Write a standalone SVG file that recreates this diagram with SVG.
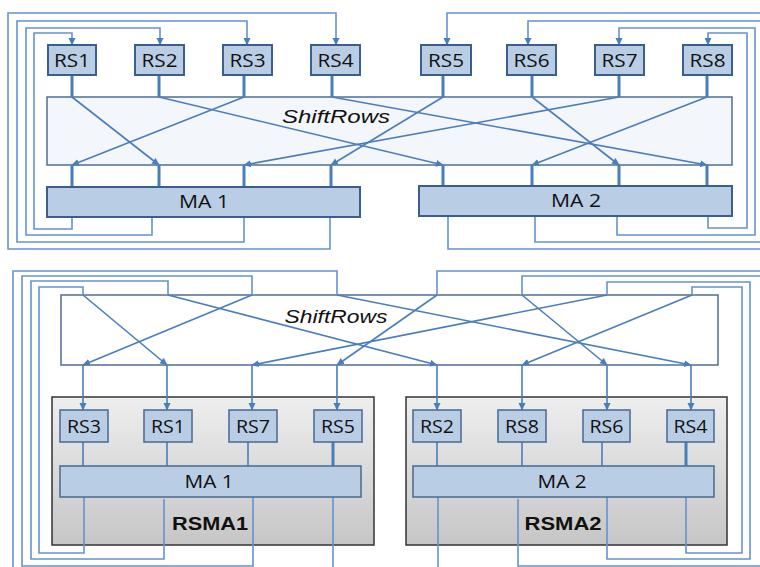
<svg xmlns="http://www.w3.org/2000/svg" width="760" height="567" viewBox="0 0 760 567">
<defs>
<style>
.rs{fill:#B9CDE5;stroke:#3A5F8C;stroke-width:2}
.rsb{fill:#B9CDE5;stroke:#4F6F97;stroke-width:1.6}
.ma{fill:#B9CDE5;stroke:#3A5F8C;stroke-width:2}
.lbl{font-family:"Open Sans","Noto Sans",sans-serif;font-size:18px;fill:#111;text-anchor:middle}
.sr{font-family:"Liberation Sans",Arial,sans-serif;font-style:italic;font-size:19px;fill:#111;text-anchor:middle}
.big{font-family:"Liberation Sans",Arial,sans-serif;font-weight:bold;font-size:18px;fill:#111;text-anchor:middle}
.c{fill:none;stroke:#4A7EBB;stroke-width:1.6}
.t{fill:none;stroke:#4A7EBB;stroke-width:3}
.f{fill:none;stroke:#6592CF;stroke-width:1.6}
</style>
<marker id="ah" markerWidth="8" markerHeight="8" refX="7" refY="4" orient="auto" markerUnits="userSpaceOnUse">
<path d="M0,0.5 L7.5,4 L0,7.5 z" fill="#4A7EBB"/>
</marker>
<linearGradient id="gg" x1="0" y1="0" x2="0" y2="1">
<stop offset="0" stop-color="#EEEEEE"/>
<stop offset="1" stop-color="#C6C6C6"/>
</linearGradient>
</defs>
<rect width="760" height="567" fill="#FFFFFF"/>

<g id="shiftrows1">
<rect x="47" y="97" width="685" height="68" fill="#F3F6FA" stroke="#4F6F97" stroke-width="1.5"/>
<text class="sr" x="336" y="123" textLength="108" lengthAdjust="spacingAndGlyphs">ShiftRows</text>
</g>
<g id="shiftrows2">
<rect x="61" y="295" width="657" height="70" fill="#FFFFFF" stroke="#4F6F97" stroke-width="1.5"/>
<text class="sr" x="336" y="323" textLength="103" lengthAdjust="spacingAndGlyphs">ShiftRows</text>
</g>
<g id="rsma1">
<rect x="52" y="397" width="322" height="148" fill="url(#gg)" stroke="#333333" stroke-width="1.5"/>
<text class="big" x="210" y="530" textLength="76" lengthAdjust="spacingAndGlyphs">RSMA1</text>
</g>
<g id="rsma2">
<rect x="406" y="397" width="321" height="148" fill="url(#gg)" stroke="#333333" stroke-width="1.5"/>
<text class="big" x="563" y="530" textLength="77" lengthAdjust="spacingAndGlyphs">RSMA2</text>
</g>

<g id="connectors">
<!-- top: RS to ShiftRows -->
<path class="t" d="M72,75V97M159,75V97M244,75V97M332,75V97M443,75V97M532,75V97M619,75V97M707,75V97"/>
<!-- top ShiftRows diagonals -->
<path class="c" marker-end="url(#ah)" d="M244,97L72,165"/>
<path class="c" marker-end="url(#ah)" d="M72,97L159,165"/>
<path class="c" marker-end="url(#ah)" d="M619,97L244,165"/>
<path class="c" marker-end="url(#ah)" d="M443,97L331,165"/>
<path class="c" marker-end="url(#ah)" d="M159,97L443,165"/>
<path class="c" marker-end="url(#ah)" d="M707,97L532,165"/>
<path class="c" marker-end="url(#ah)" d="M532,97L619,165"/>
<path class="c" marker-end="url(#ah)" d="M332,97L707,165"/>
<!-- top ShiftRows to MA -->
<path class="t" d="M72,165V187M159,165V187M244,165V187M331,165V187M443,165V186M532,165V186M619,165V186M707,165V186"/>
<!-- top feedback loops -->
<path class="f" marker-end="url(#ah)" d="M72,217V229H34V33H72V45"/>
<path class="f" marker-end="url(#ah)" d="M152,217V235H26V28H160V45"/>
<path class="f" marker-end="url(#ah)" d="M244,217V242H17V21H247V45"/>
<path class="f" marker-end="url(#ah)" d="M330,214V249H8V13H336V45"/>
<path class="f" marker-end="url(#ah)" d="M708,216V228H747V33H708V45"/>
<path class="f" marker-end="url(#ah)" d="M617,216V235H755V28H619V45"/>
<path class="f" d="M535,216V242H770"/>
<path class="f" d="M448,216V249H770"/>
<path class="f" marker-end="url(#ah)" d="M770,13H447V45"/>
<path class="f" marker-end="url(#ah)" d="M770,21H528V45"/>
<!-- bottom loops into ShiftRows -->
<path class="f" d="M13,570V271H337V295"/>
<path class="f" d="M333,497V570"/>
<path class="f" d="M253,497V566H22V276H252V295"/>
<path class="f" d="M164,499V559H31V281H168V295"/>
<path class="f" d="M84,497V553H39V287H83V295"/>
<path class="f" d="M438,497V570"/>
<path class="f" d="M518,499V566H770"/>
<path class="f" d="M607,497V559H750V282H607V295"/>
<path class="f" d="M686,497V553H742V287H692V295"/>
<path class="f" d="M770,271H437V295"/>
<path class="f" d="M770,276H522V295"/>
<!-- bottom ShiftRows diagonals -->
<path class="c" marker-end="url(#ah)" d="M252,295L83,365"/>
<path class="c" marker-end="url(#ah)" d="M83,295L167,365"/>
<path class="c" marker-end="url(#ah)" d="M607,295L252,365"/>
<path class="c" marker-end="url(#ah)" d="M437,295L337,365"/>
<path class="c" marker-end="url(#ah)" d="M168,295L437,365"/>
<path class="c" marker-end="url(#ah)" d="M692,295L522,365"/>
<path class="c" marker-end="url(#ah)" d="M522,295L607,365"/>
<path class="c" marker-end="url(#ah)" d="M337,295L691,365"/>
<!-- bottom ShiftRows to RS -->
<path class="c" marker-end="url(#ah)" d="M83,365V410"/>
<path class="c" marker-end="url(#ah)" d="M167,365V410"/>
<path class="c" marker-end="url(#ah)" d="M252,365V410"/>
<path class="c" marker-end="url(#ah)" d="M337,365V410"/>
<path class="c" marker-end="url(#ah)" d="M437,365V410"/>
<path class="c" marker-end="url(#ah)" d="M522,365V410"/>
<path class="c" marker-end="url(#ah)" d="M607,365V410"/>
<path class="c" marker-end="url(#ah)" d="M691,365V410"/>
<!-- bottom RS to MA -->
<path class="c" d="M83,442V466M167,442V466M248,442V466M437,442V466M522,442V466M602,442V466"/>
<path class="t" d="M333,442V466M686,442V466"/>
</g>

<g id="rs1"><rect class="rs" x="48" y="45" width="48" height="30"/><text class="lbl" x="72" y="67" textLength="36" lengthAdjust="spacingAndGlyphs">RS1</text></g>
<g id="rs2"><rect class="rs" x="135" y="45" width="49" height="30"/><text class="lbl" x="159.5" y="67" textLength="36" lengthAdjust="spacingAndGlyphs">RS2</text></g>
<g id="rs3"><rect class="rs" x="223" y="45" width="49" height="30"/><text class="lbl" x="247.5" y="67" textLength="36" lengthAdjust="spacingAndGlyphs">RS3</text></g>
<g id="rs4"><rect class="rs" x="311" y="45" width="49" height="30"/><text class="lbl" x="335.5" y="67" textLength="36" lengthAdjust="spacingAndGlyphs">RS4</text></g>
<g id="rs5"><rect class="rs" x="421" y="45" width="50" height="30"/><text class="lbl" x="446" y="67" textLength="36" lengthAdjust="spacingAndGlyphs">RS5</text></g>
<g id="rs6"><rect class="rs" x="507" y="45" width="49" height="30"/><text class="lbl" x="531.5" y="67" textLength="36" lengthAdjust="spacingAndGlyphs">RS6</text></g>
<g id="rs7"><rect class="rs" x="595" y="45" width="49" height="30"/><text class="lbl" x="619.5" y="67" textLength="36" lengthAdjust="spacingAndGlyphs">RS7</text></g>
<g id="rs8"><rect class="rs" x="683" y="45" width="49" height="30"/><text class="lbl" x="707.5" y="67" textLength="36" lengthAdjust="spacingAndGlyphs">RS8</text></g>

<g id="ma1"><rect class="ma" x="47" y="187" width="313" height="30"/><text class="lbl" x="204" y="208" textLength="50" lengthAdjust="spacingAndGlyphs">MA 1</text></g>
<g id="ma2"><rect class="ma" x="419" y="186" width="313" height="30"/><text class="lbl" x="576" y="207" textLength="50" lengthAdjust="spacingAndGlyphs">MA 2</text></g>

<g id="rs3b"><rect class="rsb" x="60" y="410" width="48" height="32"/><text class="lbl" x="84" y="433" textLength="34" lengthAdjust="spacingAndGlyphs">RS3</text></g>
<g id="rs1b"><rect class="rsb" x="144" y="410" width="48" height="32"/><text class="lbl" x="168" y="433" textLength="34" lengthAdjust="spacingAndGlyphs">RS1</text></g>
<g id="rs7b"><rect class="rsb" x="229" y="410" width="48" height="32"/><text class="lbl" x="253" y="433" textLength="34" lengthAdjust="spacingAndGlyphs">RS7</text></g>
<g id="rs5b"><rect class="rsb" x="314" y="410" width="48" height="32"/><text class="lbl" x="338" y="433" textLength="34" lengthAdjust="spacingAndGlyphs">RS5</text></g>
<g id="rs2b"><rect class="rsb" x="413" y="410" width="48" height="32"/><text class="lbl" x="437" y="433" textLength="34" lengthAdjust="spacingAndGlyphs">RS2</text></g>
<g id="rs8b"><rect class="rsb" x="498" y="410" width="48" height="32"/><text class="lbl" x="522" y="433" textLength="34" lengthAdjust="spacingAndGlyphs">RS8</text></g>
<g id="rs6b"><rect class="rsb" x="583" y="410" width="47" height="32"/><text class="lbl" x="606.5" y="433" textLength="34" lengthAdjust="spacingAndGlyphs">RS6</text></g>
<g id="rs4b"><rect class="rsb" x="667" y="410" width="47" height="32"/><text class="lbl" x="690.5" y="433" textLength="34" lengthAdjust="spacingAndGlyphs">RS4</text></g>

<g id="ma1b"><rect class="rsb" x="60" y="466" width="301" height="31"/><text class="lbl" x="209" y="488" textLength="49" lengthAdjust="spacingAndGlyphs">MA 1</text></g>
<g id="ma2b"><rect class="rsb" x="413" y="466" width="301" height="31"/><text class="lbl" x="562" y="488" textLength="49" lengthAdjust="spacingAndGlyphs">MA 2</text></g>
</svg>
